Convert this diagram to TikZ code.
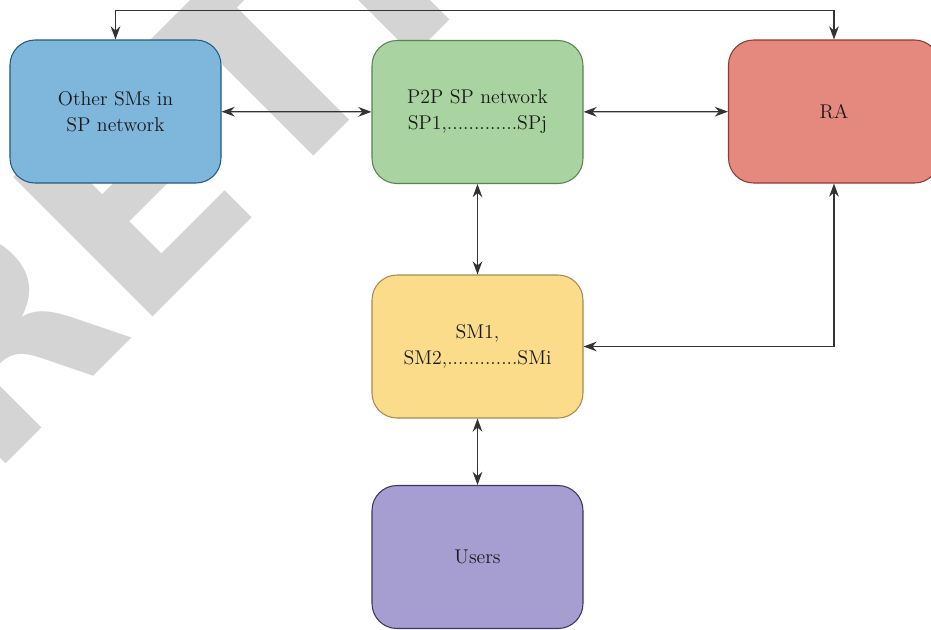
\documentclass[tikz,border=0pt]{standalone}
\usepackage{fontspec}
\usetikzlibrary{arrows.meta}
\newfontfamily\wmfont{DejaVu Sans}
\definecolor{othfill}{HTML}{7EB6DC}\definecolor{othline}{HTML}{245A80}
\definecolor{spfill}{HTML}{A9D3A0}\definecolor{spline}{HTML}{5A8350}
\definecolor{rafill}{HTML}{E5897E}\definecolor{raline}{HTML}{8E3A33}
\definecolor{smfill}{HTML}{FBDC8B}\definecolor{smline}{HTML}{A88A4E}
\definecolor{usfill}{HTML}{A69DD1}\definecolor{usline}{HTML}{3B3563}
\definecolor{wmgray}{HTML}{D4D4D4}

\begin{document}
\begin{tikzpicture}[
   box/.style={rectangle, rounded corners=0.5cm, minimum width=4.22cm, minimum height=2.86cm,
               line width=0.6pt, align=center, text=black!90,
               font=\fontsize{11.3}{14.8}\selectfont},
   link/.style={<->, >={Stealth[length=7.5pt,width=5.5pt]}, line width=0.7pt, draw=black!80}]
\useasboundingbox (0,0) rectangle (18.62,-12.58);
%
\begin{scope}
  \clip (0,0) rectangle (18.62,-12.58);
  \node [rotate=45, anchor=base west, inner sep=0pt, text=wmgray,
         font=\wmfont\bfseries\fontsize{154}{154}\selectfont] at (-0.24,-9.64) (wm) {RETRACTED};
\end{scope}
%
       \node [box,fill=othfill,draw=othline] at (2.31,-2.23) (other) {Other SMs in\\SP network};
          \node [box,fill=spfill,draw=spline] at (9.55,-2.24) (p2p) {P2P SP network\\SP1,.............SPj};
             \node [box,fill=rafill,draw=raline] at (16.68,-2.23) (ra) {RA};
              \node [box,fill=smfill,draw=smline] at (9.55,-6.93) (sm) {SM1,\\SM2,.............SMi};
               \node [box,fill=usfill,draw=usline] at (9.55,-11.14) (users) {Users};
%
%
\draw[link] (other) -- (p2p);
\draw[link] (p2p) -- (ra);
\draw[link] (p2p) -- (sm);
\draw[link] (sm) -- (users);
\draw[link] (sm) -| (ra);
\draw[link] (other.north) -- ++(0,0.58) -| (ra.north);

\end{tikzpicture}
\end{document}
